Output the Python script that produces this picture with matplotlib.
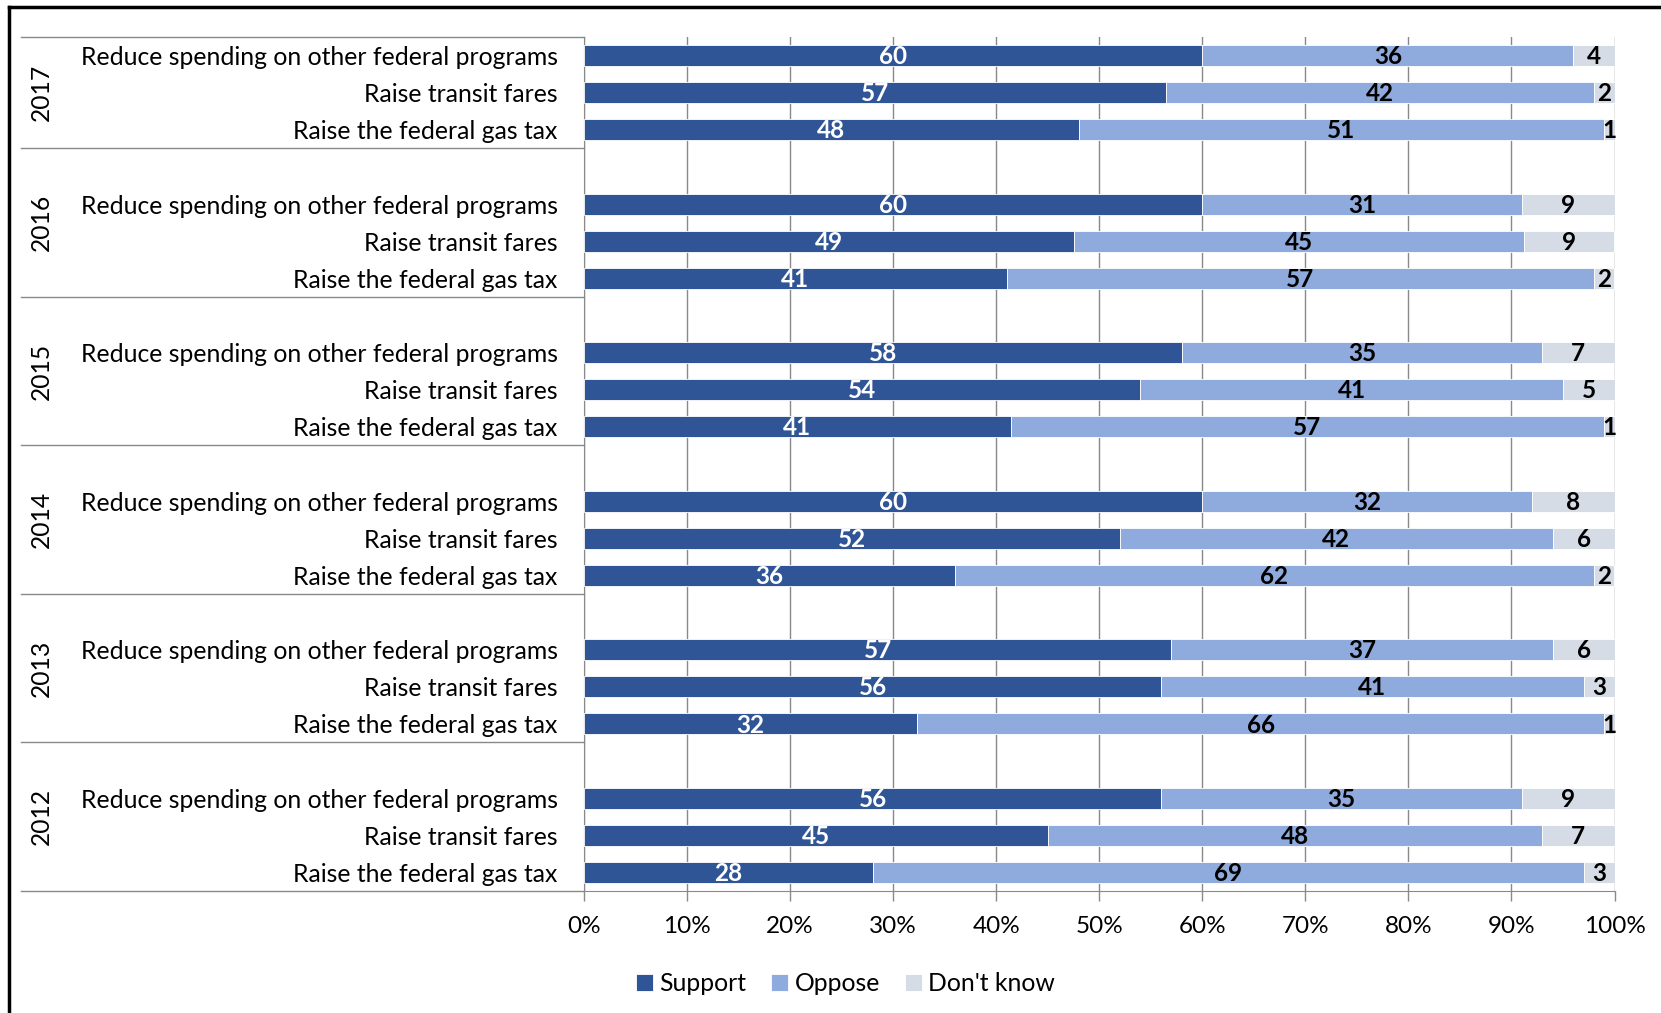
import numpy as np
import matplotlib.pyplot as plt
from matplotlib.lines import Line2D
import matplotlib.transforms as mtransforms

plt.rcParams['font.family'] = ['Lato', 'DejaVu Sans']

years = ["2017", "2016", "2015", "2014", "2013", "2012"]
items = ["Reduce spending on other federal programs", "Raise transit fares", "Raise the federal gas tax"]

# values per year, in item order
support = [[60, 57, 48], [60, 49, 41], [58, 54, 41], [60, 52, 36], [57, 56, 32], [56, 45, 28]]
oppose = [[36, 42, 51], [31, 45, 57], [35, 41, 57], [32, 42, 62], [37, 41, 66], [35, 48, 69]]
dontknow = [[4, 2, 1], [9, 9, 2], [7, 5, 1], [8, 6, 2], [6, 3, 1], [9, 7, 3]]

series = ["Support", "Oppose", "Don't know"]
colors = ["#2F5597", "#8FAADC", "#D6DCE5"]
txtcol = ["white", "black", "black"]

W, H = 1661, 1013
fig = plt.figure(figsize=(W/100, H/100), dpi=100)
x0, x1, ytop, ybot = 584, 1614.5, 37, 891
ax = fig.add_axes([x0/W, 1-ybot/H, (x1-x0)/W, (ybot-ytop)/H])

ypos, ylab = [], []
for g in range(len(years)):
    for k in range(3):
        ypos.append(4*g + k)
        ylab.append(items[k])

S = np.array(support).ravel().astype(float)
O = np.array(oppose).ravel().astype(float)
D = np.array(dontknow).ravel().astype(float)
tot = S + O + D
vals = [S, O, D]
left = np.zeros(len(S))
for i in range(3):
    w = 100*vals[i]/tot
    ax.barh(ypos, w, left=left, height=0.57, color=colors[i], label=series[i],
            edgecolor='white', linewidth=0.6, zorder=3)
    for y, l, ww, v in zip(ypos, left, w, vals[i]):
        ax.text(l + ww/2, y + 0.03, "%d" % v, ha='center', va='center', color=txtcol[i],
                fontsize=17.5, fontweight='bold', zorder=4)
    left = left + w

ax.set_xlim(0, 100)
ax.set_ylim(22.5, -0.5)
ax.set_xticks(np.arange(0, 101, 10))
ax.set_xticklabels(["%d%%" % t for t in range(0, 101, 10)], fontsize=17.5)
ax.set_yticks(ypos)
ax.set_yticklabels(ylab, fontsize=17.8)
ax.tick_params(axis='y', length=0, pad=19)
ax.tick_params(axis='x', length=7, color='#898989', pad=11, width=1)
ax.grid(axis='x', color='#898989', linewidth=1, zorder=0)
ax.set_axisbelow(True)
for s in ['top', 'right']:
    ax.spines[s].set_visible(False)
ax.spines['left'].set_color('#898989')
ax.spines['bottom'].set_color('#898989')

# category separators in the label area
trans = mtransforms.blended_transform_factory(ax.transAxes, ax.transData)
xl = (21 - x0) / (x1 - x0)
for yb in [-0.5] + [4*g + 2.5 for g in range(len(years))]:
    ax.plot([xl, 0], [yb, yb], color='#898989', lw=1, transform=trans, clip_on=False)

# year labels
for g, yr in enumerate(years):
    yc = 1 if g == 0 else 4*g + 0.5
    ax.text((41 - x0)/(x1 - x0), yc, yr, rotation=90, ha='center', va='center',
            fontsize=17.7, transform=trans)

ax.legend(loc='center', bbox_to_anchor=(0.509, 0.029), bbox_transform=fig.transFigure,
          ncol=3, frameon=False, fontsize=17.8, handlelength=0.7, handleheight=0.7,
          handletextpad=0.25, columnspacing=1.0)

# outer frame (left and top edges visible)
fig.add_artist(Line2D([9/W, 9/W], [0, 1-7/H], color='black', lw=2.5, transform=fig.transFigure))
fig.add_artist(Line2D([9/W, 1], [1-7/H, 1-7/H], color='black', lw=2.5, transform=fig.transFigure))

fig.savefig("out.png", dpi=100)
